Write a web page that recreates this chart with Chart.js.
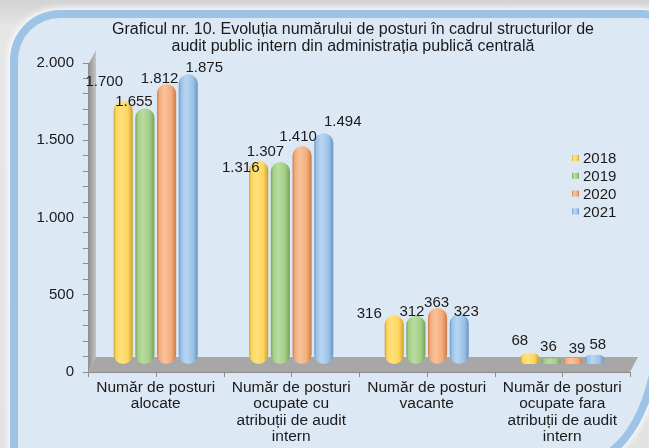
<!DOCTYPE html>
<html>
<head>
<meta charset="utf-8">
<script src="https://cdn.jsdelivr.net/npm/chart.js@4/dist/chart.umd.min.js"></script>
<style>
  html, body { margin: 0; padding: 0; overflow: hidden; }
  body { width: 649px; height: 448px; position: relative;
         background: linear-gradient(180deg, #d2d2d2 0%, #e6e6e6 6%, #e2e2e2 100%); }
  #clip { position: absolute; left: 0; top: 0; width: 649px; height: 448px; overflow: hidden; }
  #frame { position: absolute; left: 10px; top: 10px; width: 652px; height: 456px;
           box-sizing: border-box; border: 8px solid #9dc3e6; background: #dde8f5;
           border-radius: 50px 18px 80px 12px / 50px 18px 140px 12px;
           box-shadow: 0 0 6px 2px rgba(255,255,255,0.9); }
  #wrap { position: absolute; left: 0; top: 0; width: 649px; height: 448px; }
</style>
</head>
<body>
<div id="clip"><div id="frame"></div></div>
<div id="wrap"><canvas id="graf"></canvas></div>
<script>
// date
const categorii = [
  ["Număr de posturi", "alocate"],
  ["Număr de posturi", "ocupate cu", "atribuții de audit", "intern"],
  ["Număr de posturi", "vacante"],
  ["Număr de posturi", "ocupate fara", "atribuții de audit", "intern"]
];
const ani = ["2018", "2019", "2020", "2021"];
const posturi2018 = [1700, 1316, 316, 68];
const posturi2019 = [1655, 1307, 312, 36];
const posturi2020 = [1812, 1410, 363, 39];
const posturi2021 = [1875, 1494, 323, 58];
const titlu = [
  "Graficul nr. 10. Evoluția numărului de posturi în cadrul structurilor de",
  "audit public intern din administrația publică centrală"
];

// culori cilindri: [inchis, deschis, baza]
const paleta = [
  ["#c9a032", "#ffe27e", "#fdd55c"],
  ["#74a356", "#b9dca0", "#a3cd86"],
  ["#c97c4a", "#f9c39c", "#f4ab78"],
  ["#6b95c2", "#b8d6f2", "#9cc2e8"]
];
// deplasarea etichetelor fata de varful barei [dx, dy], pe serie si categorie
const deplasare = [
  [[-19, -19], [-18, 7], [-25, -1], [-10, -13]],
  [[-11, -6], [-15, -10], [-4, -4], [-3, -12]],
  [[-7, -5], [-4, -9], [-1, -5], [4, -9]],
  [[16, -6], [19, -11], [7, -2], [3, -10]]
];

const fmt = v => String(v).replace(/\B(?=(\d{3})+(?!\d))/g, ".");
const FONT = "'Liberation Sans', Arial, sans-serif";

function cilindru(ctx, x0, x1, p) {
  const g = ctx.createLinearGradient(x0, 0, x1, 0);
  g.addColorStop(0, p[0]);
  g.addColorStop(0.12, p[2]);
  g.addColorStop(0.38, p[1]);
  g.addColorStop(0.75, p[2]);
  g.addColorStop(1, p[0]);
  return g;
}

const serii = [posturi2018, posturi2019, posturi2020, posturi2021].map((d, i) => ({
  label: ani[i],
  data: d,
  yAxisID: "y2",
  barPercentage: 0.88,
  categoryPercentage: 0.64,
  borderRadius: 10,
  borderSkipped: false,
  borderWidth: 0,
  backgroundColor: (c) => {
    const el = c.element;
    if (!el || !el.width) return paleta[i][2];
    return cilindru(c.chart.ctx, el.x - el.width / 2, el.x + el.width / 2, paleta[i]);
  }
}));

// perete + podea 3D
const fundal3d = {
  id: "fundal3d",
  beforeDatasetsDraw(chart) {
    const { ctx, chartArea: a } = chart;
    const d = 8, h = 15;
    ctx.save();
    const gw = ctx.createLinearGradient(a.left, 0, a.left + d, 0);
    gw.addColorStop(0, "#8e8e8e");
    gw.addColorStop(1, "#c4c4c4");
    ctx.fillStyle = gw;
    ctx.beginPath();
    ctx.moveTo(a.left, a.top + 2);
    ctx.lineTo(a.left + d, a.top - h + 2);
    ctx.lineTo(a.left + d, a.bottom - h);
    ctx.lineTo(a.left, a.bottom);
    ctx.closePath();
    ctx.fill();
    ctx.fillStyle = "#a7a7a7";
    ctx.beginPath();
    ctx.moveTo(a.left, a.bottom);
    ctx.lineTo(a.left + d, a.bottom - h);
    ctx.lineTo(a.right + d, a.bottom - h);
    ctx.lineTo(a.right, a.bottom);
    ctx.closePath();
    ctx.fill();
    // liniuta axa x
    const x = chart.scales.x;
    const step = x.width / categorii.length;
    ctx.strokeStyle = "#8c8c8c";
    ctx.lineWidth = 1;
    ctx.beginPath();
    ctx.moveTo(a.left, a.bottom + 0.5);
    ctx.lineTo(a.right, a.bottom + 0.5);
    for (let k = 0; k <= categorii.length * 2; k++) {
      const px = Math.round(a.left + k * step / 2) + 0.5;
      ctx.moveTo(px, a.bottom);
      ctx.lineTo(px, a.bottom + 5);
    }
    ctx.stroke();
    ctx.restore();
  }
};

// etichete valori, legenda, titlu
const texte = {
  id: "texte",
  afterDatasetsDraw(chart) {
    const { ctx, chartArea: a } = chart;
    ctx.save();
    ctx.fillStyle = "#1a1a1a";
    ctx.font = "15px " + FONT;
    ctx.textAlign = "center";
    ctx.textBaseline = "middle";
    chart.data.datasets.forEach((ds, i) => {
      chart.getDatasetMeta(i).data.forEach((el, j) => {
        const [dx, dy] = deplasare[i][j];
        ctx.fillText(fmt(ds.data[j]), el.x + dx, el.y + dy);
      });
    });

    // legenda
    const lx = a.right - 58, ly = a.top + 95;
    ctx.textAlign = "left";
    ani.forEach((an, i) => {
      const y = ly + i * 17.8;
      ctx.fillStyle = cilindru(ctx, lx, lx + 7, paleta[i]);
      ctx.fillRect(lx, y - 3, 7, 6);
      ctx.fillStyle = "#1a1a1a";
      ctx.fillText(an, lx + 11, y + 1);
    });

    // titlu
    ctx.textAlign = "center";
    ctx.font = "16px " + FONT;
    titlu.forEach((t, i) => ctx.fillText(t, 353, 30 + i * 16.5));
    ctx.restore();
  }
};

const chart = new Chart(document.getElementById("graf"), {
  type: "bar",
  data: { labels: categorii, datasets: serii },
  options: {
    responsive: true,
    maintainAspectRatio: false,
    animation: false,
    layout: { padding: { top: 63, right: 19, left: 0, bottom: 0 } },
    plugins: { legend: { display: false }, tooltip: { enabled: false }, title: { display: false } },
    scales: {
      x: {
        offset: true,
        grid: { display: false },
        border: { display: false },
        ticks: { color: "#1a1a1a", font: { family: FONT, size: 15.5, lineHeight: 1.04 }, maxRotation: 0, padding: 0, autoSkip: false },
        afterFit: s => { s.height = 76; }
      },
      y: {
        min: 0, max: 2000,
        ticks: {
          stepSize: 100, autoSkip: false, maxTicksLimit: 30,
          color: "#1a1a1a", font: { family: FONT, size: 15 }, padding: 9,
          callback: v => (v % 500 === 0 ? fmt(v) : "")
        },
        grid: { drawOnChartArea: false, tickLength: 5, color: "#8c8c8c" },
        border: { color: "#8c8c8c" },
        afterFit: s => { s.width = 88; }
      },
      y2: { display: false, min: -52, max: 1948 }
    }
  },
  plugins: [fundal3d, texte]
});
chart.update();
</script>
</body>
</html>
